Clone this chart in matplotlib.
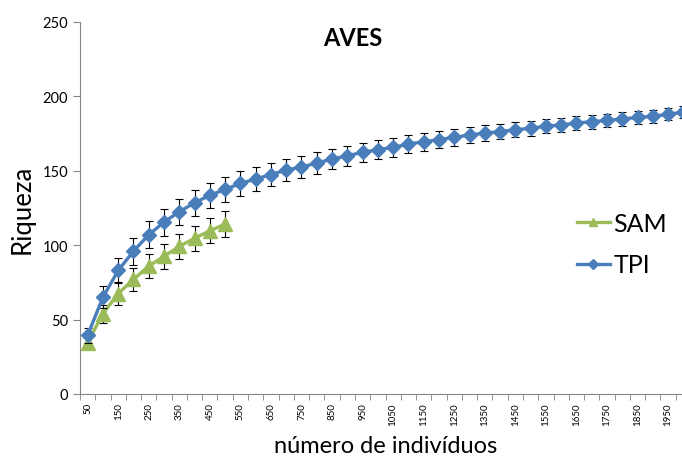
import numpy as np
import matplotlib
matplotlib.use("Agg")
import matplotlib.pyplot as plt
from matplotlib.lines import Line2D

plt.rcParams['font.family'] = ['Lato', 'DejaVu Sans']

# número de indivíduos (categorias do eixo x)
categorias = list(range(50, 2001, 50))

# TPI: riqueza média e erro
tpi = [39.5, 65, 83, 96, 107, 115.5, 122.5, 128.5, 133.5, 137.5,
       141.5, 144.5, 147.5, 150.5, 152.5, 155.2, 157.9, 160.1, 162.4, 164.2,
       165.7, 168, 169.5, 170.9, 172.5, 174, 175.4, 176.3, 177.6, 178.6,
       180, 180.8, 182.1, 183, 183.9, 184.8, 185.9, 186.6, 188, 189.3]
tpi_err = [5, 7.5, 8.5, 9, 9, 9, 8.8, 8.7, 8.6, 8.4,
           8.2, 8, 7.8, 7.6, 7.4, 7.2, 7, 6.8, 6.6, 6.4,
           6.2, 6, 5.9, 5.8, 5.6, 5.4, 5.3, 5.2, 5.1, 5,
           4.9, 4.8, 4.7, 4.6, 4.5, 4.4, 4.3, 4.2, 4.1, 4]

# SAM: só até 500 indivíduos
sam = [34.5, 54, 67.5, 77, 86, 92.5, 99.2, 104.6, 109.7, 114.2]
sam_err = [4, 6, 7.5, 8, 8.3, 8.4, 8.5, 8.5, 8.5, 8.5]

azul = "#4A7EBB"
verde = "#9BBB59"

fig = plt.figure(figsize=(6.82, 4.6), dpi=100)
ax = fig.add_axes([80 / 682, 65 / 460, 611 / 682, 372 / 460])

x = np.arange(len(categorias))

ax.errorbar(x[:len(sam)], sam, yerr=sam_err, color=verde, lw=2.4,
            marker="^", ms=10, ecolor="black", elinewidth=0.8, capsize=3,
            capthick=0.8, zorder=3)
ax.errorbar(x, tpi, yerr=tpi_err, color=azul, lw=2.4,
            marker="D", ms=7, ecolor="black", elinewidth=0.8, capsize=3,
            capthick=0.8, zorder=4)

ax.set_xlim(-0.5, len(categorias) - 0.5)
ax.set_ylim(0, 250)
ax.set_yticks(range(0, 251, 50))
ax.tick_params(axis="y", labelsize=10.5, length=5, color="#868686")

# rótulos a cada duas categorias, marcas entre categorias
ax.set_xticks(x[::2])
ax.set_xticklabels([str(c) for c in categorias[::2]], rotation=90, fontsize=7)
ax.set_xticks(np.arange(-0.5, len(categorias), 1), minor=True)
ax.tick_params(axis="x", which="major", length=0, pad=6)
ax.tick_params(axis="x", which="minor", length=4, color="#868686")

for s in ["top", "right"]:
    ax.spines[s].set_visible(False)
for s in ["left", "bottom"]:
    ax.spines[s].set_color("#868686")

ax.set_ylabel("Riqueza", fontsize=18.5, labelpad=6)
ax.set_xlabel("número de indivíduos", fontsize=17, labelpad=7.5)
fig.text(353 / 682, 1 - 38.5 / 460, "AVES", fontsize=17,
         fontweight="bold", ha="center", va="center")

handles = [Line2D([], [], color=verde, lw=2.4, marker="^", ms=6),
           Line2D([], [], color=azul, lw=2.4, marker="D", ms=5)]
ax.legend(handles, ["SAM", "TPI"], loc="center left",
          bbox_to_anchor=(497 / 611, 150 / 372), frameon=False, fontsize=18,
          handlelength=1.3, handletextpad=0.15, labelspacing=0.75,
          borderpad=0, borderaxespad=0)

fig.savefig("out.png", dpi=100)
